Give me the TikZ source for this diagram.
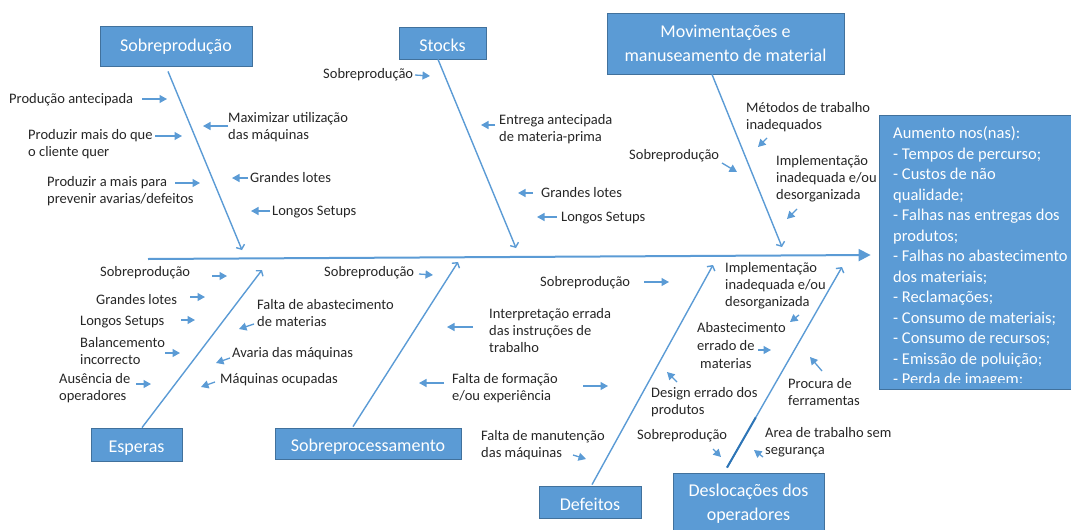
\documentclass[tikz,border=0pt]{standalone}
\usepackage{fontspec}
\setmainfont{Carlito}
\usetikzlibrary{arrows.meta,calc}

\definecolor{boxfill}{HTML}{5B9BD5}
\definecolor{boxedge}{HTML}{41719C}
\definecolor{linkblue}{HTML}{5B9BD5}
\definecolor{linkdark}{HTML}{2E75B6}
\definecolor{txt}{HTML}{262626}

\tikzset{
  catbox/.style={draw=boxedge, line width=0.8pt, fill=boxfill, text=white,
    font=\fontsize{18}{24}\selectfont, inner sep=0pt},
  oneline/.style={text height=13pt, text depth=1.5pt},
  lowline/.style={text height=16.5pt, text depth=0pt},
  % base anchor of a multi-line text is the baseline of its last line
  causetext/.style={anchor=base west, inner sep=0pt, align=left, text=txt,
    font=\fontsize{14.5}{17}\selectfont},
  causearrow/.style={draw=linkblue, line width=1.3pt, -{Triangle[length=7.5pt,width=8pt]}},
  bone/.style={draw=linkblue, line width=1.4pt, -{Straight Barb[length=3.5pt,width=9pt]}},
  spine/.style={draw=linkblue, line width=2pt, -{Triangle[length=12pt,width=12pt]}}
}

% short cause arrow between two named coordinates
\newcommand\cue[3]{\coordinate (#1s) at #2; \coordinate (#1e) at #3; \draw[causearrow] (#1s) -- (#1e);}

\begin{document}
\begin{tikzpicture}[x=1pt,y=-1pt]
\useasboundingbox (0,0) rectangle (1071,530);

% category boxes
\node[catbox, oneline, minimum width=152pt, minimum height=40pt] (sobre) at (176,46) {Sobreprodução};
\node[catbox, lowline, minimum width=87pt, minimum height=32pt] (stocks) at (442.5,43) {Stocks};
\node[catbox, align=center, minimum width=237pt, minimum height=61pt] (movim) at (725.5,43.5) {Movimentações e\\manuseamento de material};
\node[catbox, lowline, minimum width=91pt, minimum height=33pt] (esperas) at (136.5,444.5) {Esperas};
\node[catbox, lowline, minimum width=186pt, minimum height=31pt] (sobreproc) at (368,443.5) {Sobreprocessamento};
\node[catbox, lowline, minimum width=102pt, minimum height=32pt] (defeitos) at (590,502) {Defeitos};
\node[catbox, align=center, minimum width=151pt, minimum height=60pt] (desloc) at (748.5,503.5) {Deslocações dos\\operadores};

% effect box, its text cut off at the lower inner margin
\node[catbox, minimum width=196pt, minimum height=274pt] (aumento) at (977,252) {};
\begin{scope}
  \clip (880,116) rectangle (1075,382.5);
  \node[anchor=base west, inner sep=0pt, align=left, text=white,
    font=\fontsize{16.5}{20.5}\selectfont] (aumentotxt) at (893,384.5)
    {Aumento nos(nas):\\- Tempos de percurso;\\- Custos de não\\qualidade;\\- Falhas nas entregas dos\\produtos;\\- Falhas no abastecimento\\dos materiais;\\- Reclamações;\\- Consumo de materiais;\\- Consumo de recursos;\\- Emissão de poluição;\\- Perda de imagem:};
\end{scope}

% spine
\coordinate (spinetail) at (148,259);
\draw[spine] (spinetail) -- ([xshift=-8pt,yshift=-3pt]aumento.west);

% bones
\coordinate (b1) at (242,250);
\coordinate (b2) at (516,248);
\coordinate (b3) at (782,247);
\coordinate (b4) at (262,270);
\coordinate (b5) at (458,262);
\coordinate (b6) at (713,265);
\coordinate (b7) at (842,267);
\draw[bone] ([xshift=-8pt,yshift=-5pt]sobre.south) -- (b1);
\draw[bone] ([xshift=-4.5pt]stocks.south) -- (b2);
\draw[bone] ([xshift=-13.5pt]movim.south) -- (b3);
\draw[bone] ([xshift=5.5pt]esperas.north) -- (b4);
\draw[bone] ([xshift=-15pt,yshift=1pt]sobreproc.north) -- (b5);
\draw[bone] ([xshift=2pt,yshift=1pt]defeitos.north) -- (b6);
\coordinate (b7s) at ([xshift=-21.5pt,yshift=5.5pt]desloc.north);
\draw[bone] (b7s) -- (b7);
\draw[draw=linkdark, line width=2pt] (b7s) -- ($(b7s)!0.25!(b7)$);

% causes: Sobreprodução
\node[causetext] (pa) at (9,103.5) {Produção antecipada};
\cue{pa}{(142,99)}{(167,99)}
\node[causetext] (pm) at (28,156.5) {Produzir mais do que\\o cliente quer};
\cue{pm}{(155,136)}{(182,136)}
\node[causetext] (pp) at (47,203.5) {Produzir a mais para\\prevenir avarias/defeitos};
\cue{pp}{(175,183)}{(200,183)}
\node[causetext] (mu) at (228,139.5) {Maximizar utilização\\das máquinas};
\cue{mu}{(228,126)}{(203,126)}
\node[causetext] (gla) at (250,182.5) {Grandes lotes};
\cue{gla}{(248,178)}{(232,178)}
\node[causetext] (lsa) at (272,215.5) {Longos Setups};
\cue{lsa}{(270,211)}{(251,211)}

% causes: Stocks
\node[causetext] (spb) at (323,78.5) {Sobreprodução};
\cue{spb}{(415,75)}{(430,76)}
\node[causetext] (ea) at (499,141.5) {Entrega antecipada\\de materia-prima};
\cue{ea}{(495,125)}{(481,125)}
\node[causetext] (glb) at (541,197.5) {Grandes lotes};
\cue{glb}{(533,193)}{(518,193)}
\node[causetext] (lsb) at (561,221.5) {Longos Setups};
\cue{lsb}{(557,217)}{(537,217)}

% causes: Movimentações
\node[causetext] (mt) at (746,129.5) {Métodos de trabalho\\inadequados};
\cue{mt}{(767,138)}{(758,147)}
\node[causetext] (spc) at (629,159.5) {Sobreprodução};
\cue{spc}{(722,163)}{(737,172)}
\node[causetext] (iia) at (776,199.5) {Implementação\\inadequada e/ou\\desorganizada};
\cue{iia}{(797,209)}{(787,219)}

% causes: Esperas
\node[causetext] (spd) at (100,276.5) {Sobreprodução};
\cue{spd}{(212,276)}{(227,276)}
\node[causetext] (glc) at (96,304.5) {Grandes lotes};
\cue{glc}{(190,297)}{(205,297)}
\node[causetext] (lsc) at (80,325.5) {Longos Setups};
\cue{lsc}{(181,320)}{(195,320)}
\node[causetext] (bi) at (80,364.5) {Balancemento\\incorrecto};
\cue{bi}{(165,353)}{(180,353)}
\node[causetext] (ao) at (59,400.5) {Ausência de\\operadores};
\cue{ao}{(136,384)}{(151,384)}
\node[causetext] (fa) at (257,326.5) {Falta de abastecimento\\de materias};
\cue{fa}{(254,324)}{(239,329)}
\node[causetext] (am) at (232,357.5) {Avaria das máquinas};
\cue{am}{(230,358)}{(216,363)}
\node[causetext] (mo) at (220,383.5) {Máquinas ocupadas};
\cue{mo}{(215,382)}{(201,387)}

% causes: Sobreprocessamento
\node[causetext] (spe) at (324,276.5) {Sobreprodução};
\cue{spe}{(419,274)}{(433,275)}
\node[causetext] (ie) at (489,352.5) {Interpretação errada\\das instruções de\\trabalho};
\cue{ie}{(473,327)}{(447,327)}
\node[causetext] (ff) at (452,400.5) {Falta de formação\\e/ou experiência};
\cue{ffa}{(444,383)}{(419,383)}
\cue{ffb}{(583,386)}{(608,386)}
\node[causetext] (fm) at (481,457.5) {Falta de manutenção\\das máquinas};
\cue{fm}{(573,455)}{(586,459)}

% causes: Defeitos
\node[causetext] (spf) at (540,286.5) {Sobreprodução};
\cue{spf}{(644,282)}{(669,282)}
\node[causetext] (iib) at (725,306.5) {Implementação\\inadequada e/ou\\desorganizada};
\cue{iib}{(799,315)}{(790,322)}
\node[causetext, font=\fontsize{14.5}{18}\selectfont] (ae) at (697,368.5) {Abastecimento\\errado de\\\hspace*{3pt}materias};
\cue{ae}{(758,350)}{(771,350)}
\node[causetext] (de) at (651,414.5) {Design errado dos\\produtos};
\cue{de}{(677,382)}{(667,372)}

% causes: Deslocações
\node[causetext] (pf) at (788,405.5) {Procura de\\ferramentas};
\cue{pf}{(822,371)}{(810,357)}
\node[causetext] (spg) at (637,439.5) {Sobreprodução};
\cue{spg}{(713,449)}{(721,457)}
\node[causetext] (at) at (765,454.5) {Area de trabalho sem\\segurança};
\cue{at}{(763,457)}{(754,450)}

\end{tikzpicture}
\end{document}
